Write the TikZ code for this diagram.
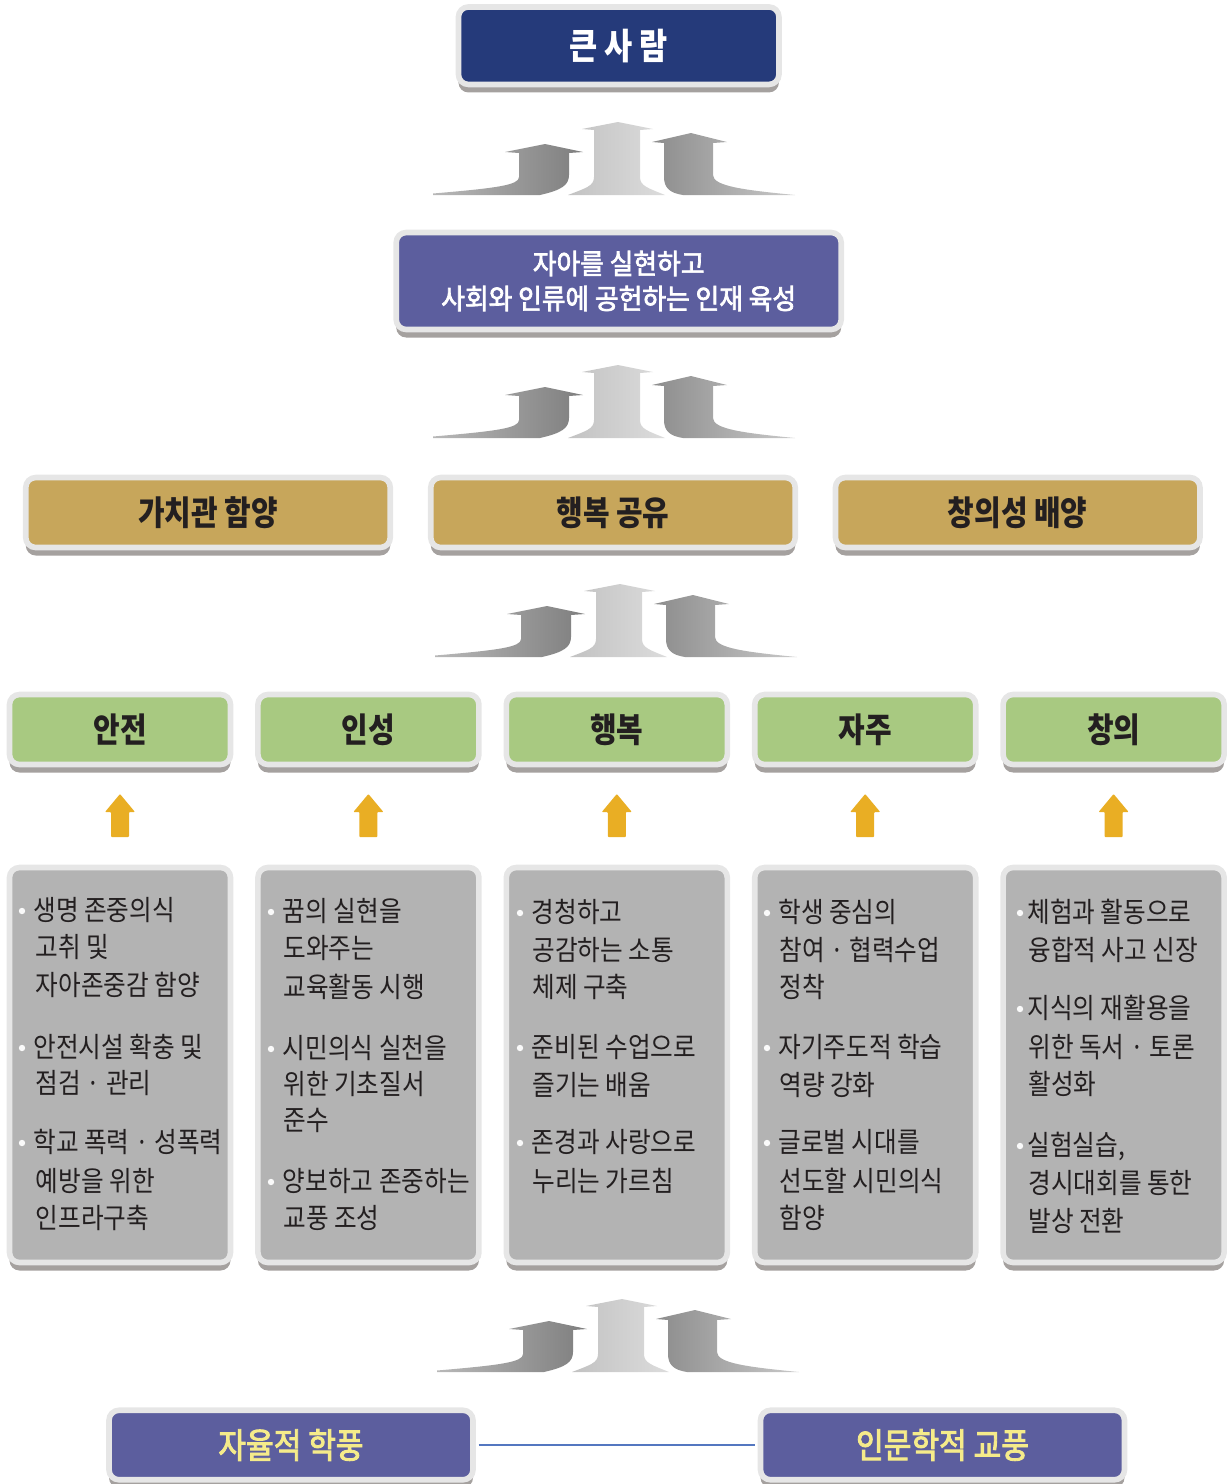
\documentclass[tikz,border=0pt]{standalone}
\usepackage{fontspec}
\newfontfamily\krbody[FakeStretch=0.88]{Noto Sans CJK KR}
\newfontfamily\krhead[FakeStretch=0.85]{Noto Sans CJK KR}
\newfontfamily\krmid[FakeStretch=0.92,FakeBold=2.5]{Noto Sans CJK KR}
\newfontfamily\krbase[FakeStretch=0.86,FakeBold=2.5]{Noto Sans CJK KR}
\usetikzlibrary{shadows}
\definecolor{navy}{HTML}{253A7A}
\definecolor{slate}{HTML}{5C5E9E}
\definecolor{gold}{HTML}{C7A65B}
\definecolor{leaf}{HTML}{A8C981}
\definecolor{stone}{HTML}{B3B3B3}
\definecolor{rim}{HTML}{E6E6E6}
\definecolor{shade}{HTML}{8E8987}
\definecolor{ink}{HTML}{231F20}
\definecolor{amber}{HTML}{E9AE24}
\definecolor{lemon}{HTML}{F5EB8A}
\definecolor{linkblue}{HTML}{5477C0}
\definecolor{rlA}{HTML}{B8B8B8}
\definecolor{rlB}{HTML}{7E7E7E}
\definecolor{rcA}{HTML}{C2C2C2}
\definecolor{rcB}{HTML}{DCDCDC}
\definecolor{rrA}{HTML}{8C8C8C}
\definecolor{rrB}{HTML}{C9C9C9}
\definecolor{bulletgray}{HTML}{FAFAFA}

\newcommand{\risers}[2]{%
\begin{scope}[shift={(#1,#2)}]
\shade[left color=rlA, right color=rlB]
 (-185,0) -- (-78,0) .. controls (-56,-5) and (-49,-10) .. (-49,-20) -- (-49,-42) -- (-35,-43) -- (-73,-51) -- (-113,-43) -- (-99,-42) -- (-99,-18) .. controls (-99,-10) and (-120,-7) .. (-185,-1.5) -- cycle;
\shade[left color=rcA, right color=rcB]
 (-50,0) .. controls (-32,-7) and (-24,-9) .. (-24,-18) -- (-24,-65) -- (-36,-66) -- (0,-73) -- (35,-66) -- (22,-65) -- (22,-18) .. controls (22,-9) and (30,-7) .. (47,0) -- cycle;
\shade[left color=rrA, right color=rrB]
 (65,0) -- (177,0) .. controls (125,-5) and (95,-9) .. (95,-20) -- (95,-52) -- (109,-53) -- (73,-62) -- (34,-53) -- (46,-52) -- (46,-18) .. controls (46,-7) and (52,-2) .. (65,0) -- cycle;
\end{scope}}

\newcommand{\itemline}[4]{\node[itemtext] (#1) at (#2,#3+10.5) {#4};}
\newcommand{\itembullet}[2]{\fill[bulletgray] (#1,#2+1) circle[radius=1.6pt];}

\begin{document}
\begin{tikzpicture}[x=0.5pt,y=-0.5pt,
 panel/.style={draw=rim, line width=2.8pt, rounded corners=5pt, inner sep=0pt,
   drop shadow={shadow xshift=0pt, shadow yshift=-4pt, fill=shade, opacity=0.8}},
 headfont/.style={font=\krhead\bfseries\fontsize{17}{20}\selectfont},
 itemtext/.style={font=\krbody\fontsize{14}{17}\selectfont, text=ink, inner sep=0pt, anchor=base west},
 goldbox/.style={panel, fill=gold, minimum width=182.25pt, minimum height=35pt, headfont, text=ink},
 leafbox/.style={panel, fill=leaf, minimum width=110.5pt, minimum height=35pt, headfont, text=ink},
 stonebox/.style={panel, fill=stone, minimum width=110.5pt, minimum height=197.5pt},
 basebox/.style={panel, fill=slate, minimum width=182pt, minimum height=34.75pt,
   font=\krbase\fontsize{17.5}{20}\selectfont, text=lemon},
]
\useasboundingbox (0,0) rectangle (1231,1484);

% top
\node[panel, fill=navy, minimum width=160.25pt, minimum height=38.75pt, text=white,
  font=\krhead\bfseries\fontsize{18}{21}\selectfont] (great) at (618.7,45.7) {큰 사 람};
\risers{618}{195}

\node[panel, fill=slate, minimum width=222.5pt, minimum height=48.5pt, text=white, align=center,
  font=\krmid\fontsize{14}{17.5}\selectfont] (mission) at (618.7,281)
  {자아를 실현하고\\사회와 인류에 공헌하는 인재 육성};
\risers{618}{438}

% gold row
\node[goldbox] (values) at (208,512.5) {가치관 함양};
\node[goldbox] (share) at (613,512.5) {행복 공유};
\node[goldbox] (creat) at (1017.7,512.5) {창의성 배양};
\risers{620}{657}

% green row
\node[leafbox] (safe) at (120,729.5) {안전};
\node[leafbox] (virtue) at (368.4,729.5) {인성};
\node[leafbox] (happy) at (616.8,729.5) {행복};
\node[leafbox] (selfdir) at (865.2,729.5) {자주};
\node[leafbox] (idea) at (1113.6,729.5) {창의};

% orange arrows
\foreach \cx in {120,368.4,616.8,865.2,1113.6}
  \fill[amber, rounded corners=0.4pt] (\cx,794) -- (\cx+15,812) -- (\cx+9,812) -- (\cx+9,837) -- (\cx-9,837) -- (\cx-9,812) -- (\cx-15,812) -- cycle;

% gray boxes
\node[stonebox] (g1) at (120,1065) {};
\node[stonebox] (g2) at (368.4,1065) {};
\node[stonebox] (g3) at (616.8,1065) {};
\node[stonebox] (g4) at (865.2,1065) {};
\node[stonebox] (g5) at (1113.6,1065) {};

% box 1
\itembullet{22}{910}\itemline{a1}{33}{910}{생명 존중의식}
\itemline{a2}{35.5}{947}{고취 및}
\itemline{a3}{35.5}{985}{자아존중감 함양}
\itembullet{22}{1047}\itemline{a4}{33}{1047}{안전시설 확충 및}
\itemline{a5}{35.5}{1083}{점검 · 관리}
\itembullet{22}{1142}\itemline{a6}{33}{1142}{학교 폭력 · 성폭력}
\itemline{a7}{35.5}{1181}{예방을 위한}
\itemline{a8}{35.5}{1218}{인프라구축}

% box 2
\itembullet{271}{911}\itemline{b1}{282.5}{911}{꿈의 실현을}
\itemline{b2}{283}{948}{도와주는}
\itemline{b3}{283}{987}{교육활동 시행}
\itembullet{271}{1048}\itemline{b4}{282.5}{1048}{시민의식 실천을}
\itemline{b5}{283}{1084}{위한 기초질서}
\itemline{b6}{283}{1120}{준수}
\itembullet{271}{1181}\itemline{b7}{282.5}{1181}{양보하고 존중하는}
\itemline{b8}{283}{1218}{교풍 조성}

% box 3
\itembullet{520}{912}\itemline{c1}{531.5}{912}{경청하고}
\itemline{c2}{532}{950}{공감하는 소통}
\itemline{c3}{532}{987}{체제 구축}
\itembullet{520}{1047}\itemline{c4}{531.5}{1047}{준비된 수업으로}
\itemline{c5}{532}{1085}{즐기는 배움}
\itembullet{520}{1142}\itemline{c6}{531.5}{1142}{존경과 사랑으로}
\itemline{c7}{532}{1181}{누리는 가르침}

% box 4
\itembullet{767}{912}\itemline{d1}{778}{912}{학생 중심의}
\itemline{d2}{779}{950}{참여 · 협력수업}
\itemline{d3}{779}{987}{정착}
\itembullet{767}{1047}\itemline{d4}{778}{1047}{자기주도적 학습}
\itemline{d5}{779}{1085}{역량 강화}
\itembullet{767}{1142}\itemline{d6}{778}{1142}{글로벌 시대를}
\itemline{d7}{779}{1181}{선도할 시민의식}
\itemline{d8}{779}{1218}{함양}

% box 5
\itembullet{1020}{912}\itemline{e1}{1027}{912}{체험과 활동으로}
\itemline{e2}{1028}{950}{융합적 사고 신장}
\itembullet{1020}{1008}\itemline{e3}{1027}{1008}{지식의 재활용을}
\itemline{e4}{1028}{1047}{위한 독서 · 토론}
\itemline{e5}{1028}{1084}{활성화}
\itembullet{1020}{1145}\itemline{e6}{1027}{1145}{실험실습,}
\itemline{e7}{1028}{1183}{경시대회를 통한}
\itemline{e8}{1028}{1221}{발상 전환}

\risers{622}{1372}

% bottom
\node[basebox] (autonomy) at (291,1445) {자율적 학풍};
\node[basebox] (humane) at (942.5,1445) {인문학적 교풍};
\draw[linkblue, line width=0.6pt, shorten <=1.4pt, shorten >=1.4pt] (autonomy) -- (humane);
\end{tikzpicture}
\end{document}
